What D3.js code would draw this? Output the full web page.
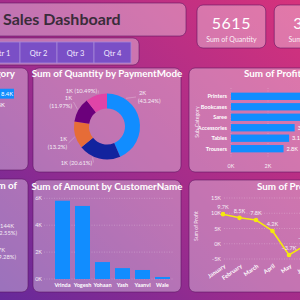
<!DOCTYPE html>
<html><head><meta charset="utf-8">
<script src="https://cdn.jsdelivr.net/npm/d3@7"></script>
<style>html,body{margin:0;padding:0;overflow:hidden;background:#9a2c8c}svg{display:block;font-family:Lato,"Open Sans",sans-serif}</style>
</head><body><svg id="c" width="300" height="300"></svg>
<script>
// ---------------- DATA ----------------
const dashTitle = "Sales Dashboard";
const quarters = ["Qtr 1", "Qtr 2", "Qtr 3", "Qtr 4"];
const cardValues = ["5615", "37K"];
const cardLabels = ["Sum of Quantity", "Sum of Profit"];

const categoryNames = ["Clothing", "Electronics"];
const categoryValues = [8.4, 6.5]; // K

const payModes = ["COD", "UPI", "Debit Card", "Credit Card", "EMI"];
const payPct = [43.24, 20.61, 13.2, 11.97, 10.49];
const payValueLabels = ["2K", "1K", "1K", "1K", "1K"];

const subCats = ["Printers", "Bookcases", "Saree", "Accessories", "Tables", "Trousers"];
const subProfit = [8.6, 8.3, 7.3, 3.44, 3.14, 2.84]; // K
const subTicks = [0, 2, 4];

const stateValueLabels = ["144K", "127K"];
const statePct = ["32.55%", "29.28%"];

const customers = ["Vrinda", "Yogesh", "Yohaan", "Yash", "Yaanvi", "Wale"];
const custAmount = [5.82, 5.43, 1.26, 0.81, 0.67, 0.15]; // K
const custTicks = [0, 2, 4, 6];

const months = ["January", "February", "March", "April", "May", "June"];
const monthProfit = [9.7, 8.5, 7.8, 4.2, -3.7, -0.4]; // K
const monthTicks = [-5, 0, 5, 10, 15];

// ---------------- STYLE ----------------
const C = { blue:"#118DFF", navy:"#12239E", orange:"#E66C37", purple:"#6B007B", pink:"#E044A7", yellow:"#F5E90C", btn:"#7A4FC6" };
const payColors = [C.blue, C.navy, C.orange, C.purple, C.pink];
const fmtK = v => d3.format(".1f")(v) + "K";
const TITLE_FS = 9.8;

const svg = d3.select("#c");
const defs = svg.append("defs");
const bg = defs.append("linearGradient").attr("id","bg")
  .attr("x1","100%").attr("y1","0%").attr("x2","0%").attr("y2","100%");
bg.append("stop").attr("offset","0%").attr("stop-color","#d6327c");
bg.append("stop").attr("offset","55%").attr("stop-color","#a02c8c");
bg.append("stop").attr("offset","100%").attr("stop-color","#66299a");
svg.append("rect").attr("width",300).attr("height",300).attr("fill","url(#bg)");

function panel(x, y, w, h) {
  svg.append("rect").attr("x",x).attr("y",y).attr("width",w).attr("height",h)
    .attr("rx",6).attr("fill","rgba(255,255,255,0.34)")
    .attr("stroke","rgba(90,20,95,0.55)").attr("stroke-width",1);
}
function title(x, y, t, anchor) {
  svg.append("text").attr("x",x).attr("y",y).attr("text-anchor",anchor || "middle")
    .attr("fill","#fff").attr("font-weight",700).attr("font-size",TITLE_FS).text(t);
}

// ---------------- HEADER ----------------
panel(-20, 3, 206, 33);
svg.append("text").attr("x",3).attr("y",25).attr("fill","#3a2c3a")
  .attr("font-weight",700).attr("font-size",16).text(dashTitle);

const cardX = d3.scaleBand().domain(cardLabels).range([197, 343]).paddingInner(0.11);
cardLabels.forEach((lab, i) => {
  const x = cardX(lab);
  panel(x, 5, cardX.bandwidth(), 43);
  svg.append("text").attr("x", x + cardX.bandwidth()/2).attr("y",29).attr("text-anchor","middle")
    .attr("fill","#fff").attr("font-size",16).attr("letter-spacing",0.5).text(cardValues[i]);
  svg.append("text").attr("x", x + cardX.bandwidth()/2).attr("y",42).attr("text-anchor","middle")
    .attr("fill","rgba(255,255,255,0.92)").attr("font-size",7).text(lab);
});

// slicer
panel(-20, 38, 159, 27);
const qx = d3.scaleBand().domain(quarters).range([-17, 131]);
const qg = svg.append("g");
qg.selectAll("rect").data(quarters).join("rect")
  .attr("x", d => qx(d)).attr("y",42).attr("width",qx.bandwidth()).attr("height",21)
  .attr("fill",C.btn).attr("stroke","#a688d8").attr("stroke-width",0.8);
qg.selectAll("text").data(quarters).join("text")
  .attr("x", d => qx(d) + qx.bandwidth()/2).attr("y",55.5).attr("text-anchor","middle")
  .attr("fill","#f3ecff").attr("font-size",7.5).text(d => d);

// ---------------- ROW 2 ----------------
// left: category bars (mostly cropped)
panel(-20, 68, 48, 102);
title(15, 77, "Sum of Amount by Category", "end");
const cy1 = d3.scaleBand().domain(categoryNames).range([87, 112]).padding(0.15);
const cx1 = d3.scaleLinear().domain([0, categoryValues[0]]).range([-88, 14]);
svg.append("g").selectAll("rect").data(categoryValues).join("rect")
  .attr("x", cx1(0)).attr("y",(d,i)=>cy1(categoryNames[i])).attr("height",cy1.bandwidth())
  .attr("width", d => cx1(d) - cx1(0)).attr("fill",C.blue);
svg.append("g").selectAll("text").data(categoryValues).join("text")
  .attr("x",(d,i)=> i===0 ? cx1(d)-1 : cx1(d)+2)
  .attr("y",(d,i)=>cy1(categoryNames[i]) + cy1.bandwidth()/2 + 2)
  .attr("text-anchor",(d,i)=> i===0 ? "end" : "start")
  .attr("fill","#fff").attr("font-size",5.8).text(d => fmtK(d));

// middle: donut
panel(33, 68, 148, 104);
title(107, 77, "Sum of Quantity by PaymentMode");
const dcx = 107, dcy = 126.5, rO = 33, rI = 18;
const pie = d3.pie().sort(null).value(d => d)(payPct);
const arc = d3.arc().innerRadius(rI).outerRadius(rO);
const dg = svg.append("g").attr("transform",`translate(${dcx},${dcy})`);
dg.selectAll("path").data(pie).join("path").attr("d",arc).attr("fill",(d,i)=>payColors[i]);
const payLabelLayout = [
  {ang:34, x:138, y:95, anchor:"start", oneLine:false},
  {ang:205, x:92, y:164.5, anchor:"end", oneLine:true},
  {ang:252, x:67, y:141, anchor:"end", oneLine:false},
  {ang:300, x:72, y:100, anchor:"end", oneLine:false},
  {ang:345, x:97, y:92.5, anchor:"end", oneLine:true}
];
const lg = svg.append("g");
payPct.forEach((p, i) => {
  const L = payLabelLayout[i];
  const a = L.ang * Math.PI/180;
  const px = dcx + (rO+1)*Math.sin(a), py = dcy - (rO+1)*Math.cos(a);
  const ex = L.anchor === "start" ? L.x - 2 : L.x + 1.5;
  const ey = L.oneLine ? L.y - 2 : L.y + 2;
  lg.append("line").attr("x1",px).attr("y1",py).attr("x2",ex).attr("y2",ey)
    .attr("stroke","rgba(255,255,255,0.5)").attr("stroke-width",0.5);
  const pct = "(" + p + "%)";
  if (L.oneLine) {
    lg.append("text").attr("x",L.x).attr("y",L.y).attr("text-anchor",L.anchor)
      .attr("fill","#f4ecf4").attr("font-size",5.8).text(payValueLabels[i] + " " + pct);
  } else {
    lg.append("text").attr("x",L.anchor==="end" ? L.x : L.x+1).attr("y",L.y).attr("text-anchor",L.anchor)
      .attr("fill","#f4ecf4").attr("font-size",5.8).text(payValueLabels[i]);
    lg.append("text").attr("x",L.x).attr("y",L.y+7.5).attr("text-anchor",L.anchor)
      .attr("fill","#f4ecf4").attr("font-size",5.8).text(pct);
  }
});

// right: profit by sub-category
panel(189, 68, 130, 104);
title(244, 77, "Sum of Profit by Sub-Category", "start");
const sy = d3.scaleBand().domain(subCats).range([89.5, 155.5]).padding(0.3);
const sx = d3.scaleLinear().domain([0, 2]).range([231, 268]);
const sg = svg.append("g");
sg.selectAll("line").data(subTicks).join("line")
  .attr("x1",d=>sx(d)).attr("x2",d=>sx(d)).attr("y1",88).attr("y2",157)
  .attr("stroke","rgba(255,255,255,0.45)").attr("stroke-width",0.5).attr("stroke-dasharray","1,1.5");
sg.selectAll("text.tick").data(subTicks).join("text").attr("class","tick")
  .attr("x",d=>sx(d)).attr("y",168).attr("text-anchor","middle")
  .attr("fill","rgba(255,255,255,0.9)").attr("font-size",5.5).text(d => d + "K");
sg.selectAll("rect").data(subProfit).join("rect")
  .attr("x",sx(0)).attr("y",(d,i)=>sy(subCats[i])).attr("height",sy.bandwidth())
  .attr("width",d=>sx(d)-sx(0)).attr("fill",C.blue);
sg.selectAll("text.cat").data(subCats).join("text").attr("class","cat")
  .attr("x",227).attr("y",d=>sy(d)+sy.bandwidth()/2+2).attr("text-anchor","end")
  .attr("fill","#fff").attr("font-weight",700).attr("font-size",5.6).text(d=>d);
sg.selectAll("text.val").data(subProfit).join("text").attr("class","val")
  .attr("x",d=>sx(d)+3).attr("y",(d,i)=>sy(subCats[i])+sy.bandwidth()/2+2)
  .attr("fill","#fff").attr("font-size",5.6).text(d=>fmtK(d));
svg.append("text").attr("transform","translate(199,122) rotate(-90)").attr("text-anchor","middle")
  .attr("fill","rgba(255,255,255,0.9)").attr("font-size",5.2).text("Sub-Category");

// ---------------- ROW 3 ----------------
// left: cropped pie labels
panel(-20, 179, 48, 113);
title(17, 189, "Sum of Amount by Sum of", "end");
const stateLabelY = d3.scalePoint().domain(statePct).range([228, 252]);
const stLabelEnd = [14, 5];
const stPctEnd = [17, 16];
statePct.forEach((p, i) => {
  svg.append("text").attr("x",stLabelEnd[i]).attr("y",stateLabelY(p)).attr("text-anchor","end")
    .attr("fill","#f4ecf4").attr("font-size",5.8).text(stateValueLabels[i]);
  svg.append("text").attr("x",stPctEnd[i]).attr("y",stateLabelY(p)+6.5).attr("text-anchor","end")
    .attr("fill","#f4ecf4").attr("font-size",5.8).text("(" + p + ")");
});

// middle: amount by customer
panel(33, 180, 148, 112);
title(107, 190, "Sum of Amount by CustomerName");
const bx = d3.scaleBand().domain(customers).range([52.5, 172.5]).paddingInner(0.25).paddingOuter(0.125);
const by = d3.scaleLinear().domain([0, 6]).range([279, 198.3]);
const bg2 = svg.append("g");
bg2.selectAll("line").data(custTicks).join("line")
  .attr("x1",44).attr("x2",173).attr("y1",d=>by(d)).attr("y2",d=>by(d))
  .attr("stroke","rgba(255,255,255,0.45)").attr("stroke-width",0.5).attr("stroke-dasharray","1,1.5");
bg2.selectAll("text.tick").data(custTicks).join("text").attr("class","tick")
  .attr("x",42).attr("y",d=>by(d)+2).attr("text-anchor","end")
  .attr("fill","rgba(255,255,255,0.9)").attr("font-size",5.5).text(d=>d+"K");
bg2.selectAll("rect").data(custAmount).join("rect")
  .attr("x",(d,i)=>bx(customers[i])).attr("width",bx.bandwidth())
  .attr("y",d=>by(d)).attr("height",d=>by(0)-by(d)).attr("fill",C.blue);
bg2.selectAll("text.cat").data(customers).join("text").attr("class","cat")
  .attr("x",d=>bx(d)+bx.bandwidth()/2).attr("y",287).attr("text-anchor","middle")
  .attr("fill","#fff").attr("font-weight",700).attr("font-size",5.6).text(d=>d);

// right: profit by month
panel(189, 180, 130, 112);
title(257, 190, "Sum of Profit by Month", "start");
const mx = d3.scalePoint().domain(months).range([223, 305.5]);
const my = d3.scaleLinear().domain([-5, 15]).range([259, 198]);
const mg = svg.append("g");
mg.selectAll("line").data(monthTicks).join("line")
  .attr("x1",224).attr("x2",310).attr("y1",d=>my(d)).attr("y2",d=>my(d))
  .attr("stroke","rgba(255,255,255,0.45)").attr("stroke-width",0.5).attr("stroke-dasharray","1,1.5");
mg.selectAll("text.tick").data(monthTicks).join("text").attr("class","tick")
  .attr("x",221).attr("y",d=>my(d)+2).attr("text-anchor","end")
  .attr("fill","rgba(255,255,255,0.9)").attr("font-size",5.5).text(d=>d+"K");
const line = d3.line().x((d,i)=>mx(months[i])).y(d=>my(d));
mg.append("path").datum(monthProfit).attr("d",line).attr("fill","none")
  .attr("stroke",C.yellow).attr("stroke-width",1.6);
mg.selectAll("circle").data(monthProfit).join("circle")
  .attr("cx",(d,i)=>mx(months[i])).attr("cy",d=>my(d)).attr("r",2.3).attr("fill",C.yellow);
mg.selectAll("text.val").data(monthProfit).join("text").attr("class","val")
  .attr("x",(d,i)=>mx(months[i])).attr("y",d=>my(d)-5).attr("text-anchor","middle")
  .attr("fill","#f4ecf4").attr("font-size",5.6).text(d=>fmtK(d));
mg.selectAll("text.cat").data(months).join("text").attr("class","cat")
  .attr("transform",d=>`translate(${mx(d)+3},267) rotate(-35)`).attr("text-anchor","end")
  .attr("fill","#fff").attr("font-weight",700).attr("font-size",5.8).text(d=>d);
svg.append("text").attr("transform","translate(198,226) rotate(-90)").attr("text-anchor","middle")
  .attr("fill","rgba(255,255,255,0.9)").attr("font-size",5.2).text("Sum of Profit");
</script></body></html>
